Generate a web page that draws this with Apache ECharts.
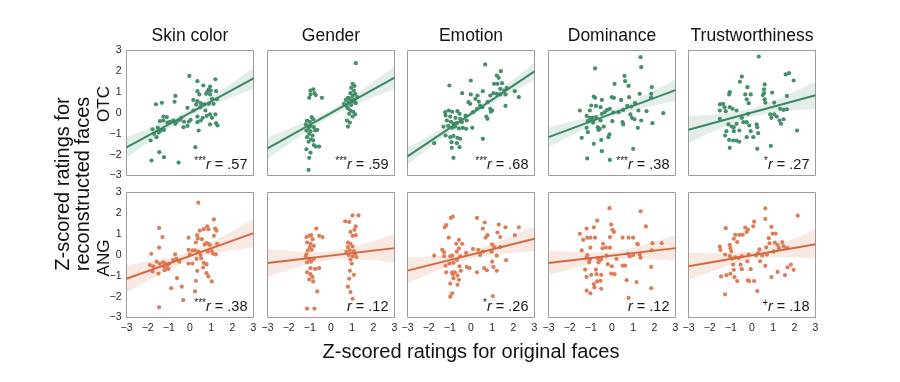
<!DOCTYPE html>
<html><head><meta charset="utf-8">
<script src="https://cdn.jsdelivr.net/npm/echarts@6/dist/echarts.min.js"></script>
<style>html,body{margin:0;padding:0;background:#fff}#c{width:900px;height:382px}</style>
</head><body><div id="c"></div>
<script>
const columnTitles = ['Skin color','Gender','Emotion','Dominance','Trustworthiness'];
const rowNames = ['OTC','ANG'];
const axisTicks = [-3,-2,-1,0,1,2,3];
const xAxisTitle = 'Z-scored ratings for original faces';
const yAxisTitle = 'Z-scored ratings for\nreconstructed faces';

const otcSkinColor = [[-0.03,1.78],[0.35,1.53],[1.20,1.62],[0.63,1.32],[0.95,1.27],[0.89,1.14],[0.82,1.02],[0.98,1.08],[0.76,0.92],[0.95,0.89],[0.35,1.05],[0.44,0.89],[1.23,1.05],[1.27,0.66],[1.04,0.68],[0.16,0.63],[0.35,0.57],[0.51,0.47],[0.29,0.41],[0.67,0.41],[0.89,0.44],[1.11,0.44],[-0.69,0.82],[-0.73,0.54],[-1.33,0.49],[-1.61,0.42],[-0.12,0.25],[0.16,0.12],[0.48,0.28],[0.73,0.12],[0.95,-0.07],[1.20,-0.07],[1.04,-0.23],[0.79,-0.14],[0.35,-0.17],[0.60,-0.23],[0.51,-0.36],[0.95,-0.55],[1.23,-0.49],[1.30,-0.60],[0.35,-0.44],[0.41,-0.84],[-1.26,-0.17],[-1.10,-0.20],[-1.42,-0.39],[-1.26,-0.36],[-1.07,-0.46],[-0.95,-0.42],[-0.79,-0.36],[-0.63,-0.42],[-0.47,-0.33],[-0.41,-0.23],[-0.28,-0.42],[-0.06,-0.42],[0.03,-0.33],[-0.12,-0.62],[-0.31,-0.68],[-0.69,-0.52],[-1.52,-0.71],[-1.77,-0.78],[-1.39,-0.84],[-1.23,-0.81],[-1.48,-0.94],[-1.70,-1.00],[-1.58,-1.16],[-1.86,-1.32],[0.25,-1.64],[-1.45,-1.88],[-1.23,-2.12],[-1.82,-2.28],[-0.54,-2.38]];
const otcGender = [[-0.97,1.08],[-0.84,1.14],[-0.78,0.95],[-0.97,0.89],[-1.03,0.73],[-0.72,0.86],[-0.43,0.73],[-0.91,-0.2],[-1.13,-0.36],[-1.0,-0.42],[-0.84,-0.3],[-1.19,-0.55],[-0.97,-0.62],[-1.06,-0.71],[-0.81,-0.68],[-1.16,-0.84],[-0.97,-0.87],[-1.03,-1.0],[-0.87,-1.08],[-0.75,-0.84],[-0.65,-0.81],[-1.13,-1.16],[-0.94,-1.26],[-0.84,-1.32],[-1.06,-1.38],[-0.81,-1.54],[-0.72,-1.61],[-0.56,-1.61],[-1.16,-1.74],[-0.97,-1.9],[-1.03,-2.15],[-1.06,-2.73],[1.17,2.39],[1.02,1.4],[1.11,1.3],[0.95,1.21],[1.08,1.08],[0.92,0.95],[1.14,0.92],[1.02,0.82],[0.80,0.73],[1.24,0.76],[0.70,0.63],[0.92,0.6],[1.08,0.63],[0.83,0.5],[0.61,0.44],[0.73,0.34],[0.95,0.38],[1.17,0.47],[0.8,0.22],[0.92,0.12],[1.05,0.06],[0.86,-0.04],[1.14,-0.07],[1.02,-0.17],[0.76,-0.36],[0.89,-0.46],[0.8,-0.65],[1.0,0.55],[0.88,0.7],[1.1,0.58]];
const otcEmotion = [[0.67,2.33],[-1.02,1.32],[-0.01,1.56],[1.22,1.8],[1.31,1.69],[1.41,2.01],[-0.42,0.95],[1.09,1.4],[1.25,1.4],[1.47,1.43],[1.38,1.16],[1.57,1.08],[1.69,1.21],[1.06,0.95],[1.22,0.92],[1.38,0.89],[1.63,0.89],[2.07,1.05],[2.26,0.76],[0.91,0.84],[0.56,1.05],[0.78,0.52],[-0.01,0.89],[0.31,0.84],[0.21,0.68],[0.37,0.55],[-0.12,0.52],[-0.04,0.44],[0.43,0.36],[0.28,0.2],[0.53,0.28],[0.91,0.2],[1.0,0.12],[0.94,0.06],[0.72,-0.17],[0.78,-0.28],[0.09,0.04],[-0.26,-0.12],[1.63,0.34],[-1.22,0.04],[-1.05,0.12],[-0.89,0.06],[-0.64,0.09],[-0.54,-0.04],[-1.2,-0.12],[-0.98,-0.17],[-0.73,-0.23],[-0.51,-0.28],[-1.14,-0.36],[-0.95,-0.42],[-0.83,-0.52],[-0.67,-0.49],[-0.43,-0.44],[-0.2,-0.36],[-1.3,-0.65],[-1.08,-0.62],[-0.89,-0.71],[-0.75,-0.65],[-0.57,-0.74],[-0.39,-0.71],[-0.23,-0.76],[-1.2,-1.08],[-0.98,-1.16],[-0.83,-1.1],[-0.64,-1.19],[-0.51,-1.24],[0.06,-0.71],[-0.92,-1.4],[-0.67,-1.45],[-0.54,-1.64],[-0.91,-1.67],[-0.83,-2.15],[-1.74,-1.45],[0.56,-1.24]];
const otcDominance = [[1.35,2.68],[1.38,2.2],[-0.8,2.14],[0.59,1.78],[0.62,1.53],[0.12,1.4],[0.78,1.3],[1.88,1.24],[-0.86,0.79],[-0.8,0.73],[-0.48,0.63],[-0.01,0.76],[0.09,0.73],[0.43,0.63],[0.81,0.76],[1.31,0.92],[1.85,0.92],[1.85,0.73],[-0.98,0.36],[-0.76,0.34],[-0.54,0.28],[-0.23,0.15],[-0.1,0.2],[0.06,0.02],[0.31,0.04],[0.53,0.15],[0.72,0.34],[0.91,0.31],[1.09,0.47],[1.25,0.12],[1.63,0.09],[2.42,-0.01],[-1.52,0.12],[-1.05,0.12],[-1.2,-0.14],[-1.05,-0.23],[-0.92,-0.23],[-0.76,-0.2],[-0.48,-0.04],[-0.35,0.04],[-1.14,-0.39],[-0.89,-0.46],[-0.98,-0.33],[-0.54,-0.36],[0.02,-0.39],[0.5,-0.44],[0.53,-0.55],[0.87,-0.07],[0.94,-0.23],[1.06,-0.3],[1.38,-0.36],[1.91,-0.49],[1.22,-0.71],[-1.2,-0.71],[-0.67,-0.68],[-0.39,-0.65],[-1.14,-0.92],[-0.64,-0.81],[-0.57,-0.76],[-0.12,-1.03],[-0.17,-1.16],[-1.43,-1.19],[-0.51,-1.29],[-0.86,-1.48],[-0.48,-1.83],[1.0,-1.72],[-1.17,-2.18],[-0.1,-2.25]];
const otcTrustworthiness = [[0.32,2.71],[1.59,1.85],[1.75,1.91],[1.97,1.56],[-0.48,1.75],[-0.57,1.5],[-0.22,1.24],[0.6,1.37],[0.57,1.14],[0.57,0.95],[-1.05,1.0],[-1.08,0.89],[-0.32,0.89],[-0.06,0.89],[0.95,0.98],[0.51,0.86],[1.65,0.82],[-0.25,0.66],[-0.16,0.47],[0.6,0.66],[0.63,0.5],[1.05,0.5],[-1.52,0.41],[-1.37,0.44],[-1.3,0.28],[-1.52,0.12],[-1.24,0.09],[-1.05,0.28],[-0.92,0.2],[-0.73,0.12],[-0.19,-0.04],[-0.48,-0.23],[1.33,0.2],[1.49,0.15],[1.65,0.18],[0.86,-0.07],[1.05,-0.07],[1.17,-0.17],[0.92,-0.23],[-1.52,-0.28],[1.3,-0.36],[1.49,-0.3],[1.37,-0.52],[-1.11,-0.55],[-0.95,-0.65],[-0.86,-0.68],[-0.73,-0.52],[-0.41,-0.44],[-0.25,-0.44],[-0.13,-0.6],[0.22,-0.55],[0.25,-0.68],[-0.86,-0.87],[-1.21,-0.87],[-0.6,-0.84],[-0.06,-0.87],[0.29,-0.97],[0.06,-1.16],[-0.25,-1.16],[-1.27,-1.08],[-1.08,-1.29],[-0.89,-1.32],[-0.73,-1.32],[-0.6,-1.38],[2.13,-0.84],[-1.05,-1.67],[0.25,-1.72],[0.89,-1.58]];

const angSkinColor = [[0.39,2.51],[-1.46,1.3],[-1.3,0.86],[-0.07,0.83],[1.13,1.71],[0.81,1.37],[0.87,1.24],[0.65,1.24],[0.46,1.17],[0.34,0.95],[1.19,1.27],[1.25,1.17],[0.37,0.79],[0.56,0.76],[0.28,0.6],[0.78,0.57],[0.87,0.54],[0.69,0.51],[0.94,0.48],[1.13,0.92],[-1.46,0.35],[-0.07,0.25],[0.12,0.22],[0.24,0.22],[0.4,0.16],[-0.01,0.03],[0.5,0.0],[1.03,0.19],[1.28,0.54],[1.09,0.06],[1.22,0.03],[0.84,0.16],[-1.83,0.06],[-1.58,-0.32],[-1.43,-0.41],[-1.27,-0.35],[-1.17,-0.41],[-1.08,-0.48],[-0.98,-0.41],[-1.24,-0.54],[-1.08,-0.63],[-0.8,-0.24],[-0.7,0.03],[-0.64,-0.19],[-0.51,-0.32],[-1.9,-0.48],[-1.74,-0.54],[-1.77,-0.79],[-1.49,-0.89],[-1.2,-0.73],[-1.02,-0.67],[-0.07,-0.41],[0.12,-0.41],[0.31,-0.19],[0.53,-0.16],[0.65,-0.38],[0.78,-0.44],[0.62,-0.6],[0.78,-0.87],[0.87,-1.03],[1.03,-1.27],[0.34,-0.76],[0.28,-1.24],[-0.61,-1.11],[-0.39,-1.52],[-0.89,-1.59],[0.24,-1.75],[-0.32,-2.17],[-1.46,-2.51]];
const angGender = [[-0.69,1.27],[-1.16,0.86],[-1.03,0.92],[-0.94,0.95],[-0.87,0.76],[-0.56,0.92],[-0.4,0.86],[-1.13,0.6],[-0.97,0.54],[-1.0,0.38],[-0.81,0.44],[-1.09,0.22],[-0.91,0.25],[-1.19,-0.06],[-1.03,-0.19],[-1.13,-0.35],[-0.94,-0.32],[-0.81,-0.19],[-0.97,-0.63],[-0.75,-0.67],[-0.56,-0.63],[-1.13,-0.83],[-0.97,-0.92],[-0.87,-1.05],[-1.03,-1.17],[-0.84,-1.27],[-0.65,-1.75],[-1.13,-2.57],[-0.78,-2.57],[-1.16,0.03],[0.67,1.62],[1.02,1.9],[1.3,1.9],[0.86,1.59],[1.17,1.37],[1.11,1.21],[0.92,1.11],[1.02,0.92],[1.17,0.95],[0.8,0.6],[0.92,0.54],[0.8,0.38],[1.02,0.41],[0.89,0.22],[1.08,0.19],[1.14,0.06],[0.83,0.0],[1.02,-0.06],[1.2,-0.1],[0.92,-0.22],[0.98,-0.41],[0.89,-0.76],[1.08,-0.95],[0.86,-1.14],[0.8,-1.52],[0.92,-1.78],[1.02,-2.1],[0.73,0.16]];
const angEmotion = [[-0.95,1.78],[-0.86,1.84],[-1.17,1.43],[-1.24,1.33],[-1.05,0.83],[0.28,1.78],[0.65,1.56],[0.56,1.27],[1.31,1.46],[1.63,1.33],[2.26,1.33],[2.07,0.95],[1.25,1.08],[1.38,0.86],[0.78,0.95],[0.69,0.83],[-0.57,0.73],[-0.7,0.54],[-0.42,0.54],[-0.57,0.32],[-1.36,0.25],[-1.27,0.13],[-1.74,-0.03],[-1.27,-0.06],[-0.98,-0.06],[-0.89,-0.03],[-0.67,0.16],[-0.51,-0.06],[-0.23,0.1],[0.09,0.29],[0.34,0.25],[0.56,0.16],[0.43,0.0],[1.0,0.51],[1.09,0.38],[1.38,0.38],[1.22,-0.03],[0.97,0.16],[1.66,-0.25],[1.0,-0.32],[-0.67,-0.24],[-0.83,-0.38],[-1.02,-0.41],[-1.2,-0.51],[-0.54,-0.54],[-0.2,-0.57],[-0.07,-0.63],[0.62,-0.63],[0.75,-0.73],[0.28,-0.83],[1.06,-0.57],[1.22,-0.76],[-1.17,-0.83],[-0.89,-0.83],[-0.76,-0.83],[-0.86,-0.92],[-0.64,-0.98],[-0.48,-0.76],[-0.83,-1.11],[-0.57,-1.19],[-0.98,-1.37],[-0.64,-1.43],[-0.89,-1.84],[-0.98,-2.0],[1.03,-1.97]];
const angDominance = [[-0.12,2.25],[1.35,2.1],[-0.7,1.65],[-1.2,1.27],[-0.86,1.33],[-0.04,1.46],[0.02,1.21],[0.09,1.11],[1.6,1.37],[-1.52,1.02],[-1.17,0.83],[-1.02,0.83],[-0.8,0.83],[-0.1,0.86],[0.5,0.83],[0.78,0.83],[1.0,0.83],[-1.36,0.73],[-0.42,0.54],[-0.29,0.35],[-0.45,0.32],[-0.1,0.35],[-1.02,0.35],[-1.43,0.22],[1.22,0.51],[1.19,0.54],[1.91,0.57],[1.88,0.22],[2.35,0.57],[-1.17,0.0],[-1.2,-0.13],[-1.05,-0.22],[-0.67,-0.16],[-0.57,-0.25],[-0.51,-0.19],[-0.26,-0.03],[0.21,-0.19],[0.75,0.06],[0.84,-0.06],[1.0,0.0],[1.31,0.03],[1.35,-0.13],[-1.08,-0.35],[-0.64,-0.35],[-0.2,-0.44],[-0.01,-0.54],[0.5,-0.51],[0.62,-0.51],[-1.27,-0.7],[-0.76,-0.7],[1.85,-0.57],[-0.04,-0.89],[0.12,-0.92],[-0.98,-0.95],[-0.73,-0.92],[-0.51,-0.95],[-1.2,-1.05],[-0.86,-1.4],[-0.7,-1.27],[-0.54,-1.24],[-0.83,-1.56],[-0.51,-1.62],[-1.02,-1.84],[-1.2,-1.71],[0.69,-1.21],[1.16,-1.3],[1.85,-1.59],[0.78,-2.06]];
const angTrustworthiness = [[0.63,2.24],[2.16,1.89],[0.63,1.73],[0.1,1.6],[0.06,1.38],[-1.24,1.29],[-0.32,1.32],[-0.19,1.22],[-0.25,1.1],[-0.79,0.97],[-0.6,0.97],[-0.44,0.97],[0.92,1.35],[0.98,1.03],[1.11,1.03],[-0.86,0.78],[-0.7,0.62],[-1.05,0.49],[-1.02,0.33],[-1.52,0.4],[-1.49,0.24],[-0.98,0.17],[0.79,0.81],[0.83,0.56],[1.08,0.59],[1.21,0.49],[1.43,0.62],[1.49,0.43],[1.59,0.33],[1.68,0.33],[0.67,0.37],[0.35,0.27],[0.29,0.08],[0.19,-0.02],[0.48,-0.02],[0.7,0.02],[-1.27,0.02],[-1.05,-0.05],[-0.95,-0.17],[-0.79,-0.11],[-0.63,-0.14],[-0.48,-0.05],[-0.16,0.02],[-0.22,-0.3],[-0.54,-0.46],[-0.89,-0.46],[0.38,-0.3],[0.63,-0.52],[1.84,-0.46],[1.68,-0.59],[1.97,-0.71],[1.21,-0.81],[0.92,-1.06],[1.56,-0.97],[-1.46,-1.03],[-1.21,-0.97],[-1.02,-0.9],[-0.86,-0.71],[-0.48,-0.68],[-0.06,-0.68],[-0.7,-1.25],[-0.19,-1.22],[-0.13,-1.25],[0.1,-1.25],[0.25,-1.73],[-1.27,-1.89],[-0.83,-1.06],[1.27,0.33],[1.02,0.17]];

// regression line read at x = -3 and x = 3
const otcFitEnds = [[-1.65,1.66],[-1.7,1.7],[-2.08,2.0],[-1.16,1.1],[-0.8,0.85]];
const angFitEnds = [[-1.14,1.05],[-0.38,0.33],[-0.75,0.78],[-0.38,0.33],[-0.54,0.52]];
// confidence band half-widths read at the axis ticks
const otcBandHalf = [[0.5,0.34,0.21,0.14,0.21,0.34,0.5],[0.52,0.37,0.23,0.15,0.23,0.37,0.55],[0.42,0.29,0.18,0.12,0.18,0.29,0.42],[0.48,0.35,0.22,0.15,0.22,0.36,0.52],[0.64,0.44,0.27,0.18,0.27,0.44,0.66]];
const angBandHalf = [[0.66,0.46,0.28,0.19,0.28,0.46,0.68],[0.66,0.46,0.28,0.19,0.28,0.46,0.7],[0.62,0.42,0.26,0.17,0.26,0.42,0.6],[0.6,0.42,0.26,0.17,0.26,0.42,0.62],[0.66,0.45,0.27,0.18,0.27,0.45,0.7]];
const otcSig = ['***','***','***','***','*'];
const otcR = ['.57','.59','.68','.38','.27'];
const angSig = ['***','','*','','+'];
const angR = ['.38','.12','.26','.12','.18'];

const FONT = 'Arial, "Liberation Sans", Helvetica, sans-serif';
const GREEN = {dot:'#458f6b', line:'#3b8663', band:'rgba(66,141,105,0.15)'};
const ORANGE = {dot:'#df7d58', line:'#d6683f', band:'rgba(222,123,86,0.17)'};
const LEFTS = [126.5, 267.5, 407.5, 548.5, 688.5];
const TOPS = [50.5, 192.5];
const W = 127, H = 125;

const rows = [
  {points:[otcSkinColor,otcGender,otcEmotion,otcDominance,otcTrustworthiness], ends:otcFitEnds, half:otcBandHalf, sig:otcSig, r:otcR, col:GREEN},
  {points:[angSkinColor,angGender,angEmotion,angDominance,angTrustworthiness], ends:angFitEnds, half:angBandHalf, sig:angSig, r:angR, col:ORANGE}
];

const fmt = v => v < 0 ? '\u2212' + Math.abs(v) : String(v);
const grids = [], xAxes = [], yAxes = [], series = [], graphics = [];

rows.forEach((row, ri) => {
  for (let ci = 0; ci < 5; ci++) {
    const k = ri * 5 + ci;
    grids.push({left: LEFTS[ci], top: TOPS[ri], width: W, height: H, show: true,
      borderColor: '#9c9c9c', borderWidth: 1, backgroundColor: '#fff', containLabel: false, outerBoundsMode: 'none'});
    xAxes.push({type:'value', gridIndex:k, min:-3, max:3, interval:1,
      axisLine:{show:false}, axisTick:{show:false}, splitLine:{show:false},
      axisLabel:{show: ri === 1, formatter: fmt, fontSize:10.5, color:'#262626', fontFamily:FONT, margin:5, showMinLabel:true, showMaxLabel:true}});
    yAxes.push({type:'value', gridIndex:k, min:-3, max:3, interval:1,
      axisLine:{show:false}, axisTick:{show:false}, splitLine:{show:false},
      axisLabel:{show: ci === 0, formatter: fmt, fontSize:10.5, color:'#262626', fontFamily:FONT, margin:5, showMinLabel:true, showMaxLabel:true}});
    const e = row.ends[ci];
    const fitAt = x => e[0] + (e[1] - e[0]) * (x + 3) / 6;
    const band = axisTicks.map((x, i) => [x, fitAt(x) - row.half[ci][i], fitAt(x) + row.half[ci][i]]);
    series.push({
      type:'custom', xAxisIndex:k, yAxisIndex:k, clip:true, silent:true, z:1, data: band,
      encode:{x:0, y:[1,2]},
      renderItem: (params, api) => {
        if (params.dataIndex !== 0) return null;
        const up = band.map(p => api.coord([p[0], p[2]]));
        const dn = band.slice().reverse().map(p => api.coord([p[0], p[1]]));
        return {type:'polygon', shape:{points: up.concat(dn)}, style:{fill: row.col.band}};
      }
    });
    series.push({type:'scatter', xAxisIndex:k, yAxisIndex:k, z:2, silent:true, symbol:'circle', symbolSize:4.2,
      itemStyle:{color: row.col.dot, opacity:1}, data: row.points[ci]});
    series.push({type:'line', xAxisIndex:k, yAxisIndex:k, z:3, silent:true, symbol:'none',
      lineStyle:{color: row.col.line, width:2}, data: [[-3, e[0]], [3, e[1]]]});
    graphics.push({type:'text', x: LEFTS[ci] + W - 6, y: TOPS[ri] + H - 3, silent:true,
      style:{text: (row.sig[ci] ? '{s|' + row.sig[ci] + '}' : '') + '{i|r} = ' + row.r[ci],
        align:'right', verticalAlign:'bottom', textAlign:'right', textVerticalAlign:'bottom',
        fontSize:14.5, fontFamily:FONT, fill:'#1a1a1a',
        rich:{s:{fontSize:10, fontFamily:FONT, fill:'#1a1a1a', verticalAlign:'top', lineHeight:16},
              i:{fontSize:14.5, fontStyle:'italic', fontFamily:FONT, fill:'#1a1a1a'}}}});
  }
});

columnTitles.forEach((t, ci) => {
  graphics.push({type:'text', x: LEFTS[ci] + W / 2, y: 36, silent:true,
    style:{text:t, fontSize:17.5, fontFamily:FONT, fill:'#111', align:'center', verticalAlign:'middle', textAlign:'center', textVerticalAlign:'middle'}});
});
graphics.push({type:'text', x:104, y:104, rotation:Math.PI/2, silent:true,
  style:{text:rowNames[0], fontSize:17, fontFamily:FONT, fill:'#111', align:'center', verticalAlign:'middle', textAlign:'center', textVerticalAlign:'middle'}});
graphics.push({type:'text', x:104, y:258, rotation:Math.PI/2, silent:true,
  style:{text:rowNames[1], fontSize:17, fontFamily:FONT, fill:'#111', align:'center', verticalAlign:'middle', textAlign:'center', textVerticalAlign:'middle'}});
graphics.push({type:'text', x:73.5, y:184, rotation:Math.PI/2, silent:true,
  style:{text:yAxisTitle, fontSize:20, lineHeight:19.5, fontFamily:FONT, fill:'#111', align:'center', verticalAlign:'middle', textAlign:'center', textVerticalAlign:'middle'}});
graphics.push({type:'text', x:471, y:352, silent:true,
  style:{text:xAxisTitle, fontSize:20, fontFamily:FONT, fill:'#111', align:'center', verticalAlign:'middle', textAlign:'center', textVerticalAlign:'middle'}});

const chart = echarts.init(document.getElementById('c'), null, {renderer:'canvas'});
chart.setOption({animation:false, backgroundColor:'#fff', grid:grids, xAxis:xAxes, yAxis:yAxes, series:series, graphic:graphics});
</script></body></html>
